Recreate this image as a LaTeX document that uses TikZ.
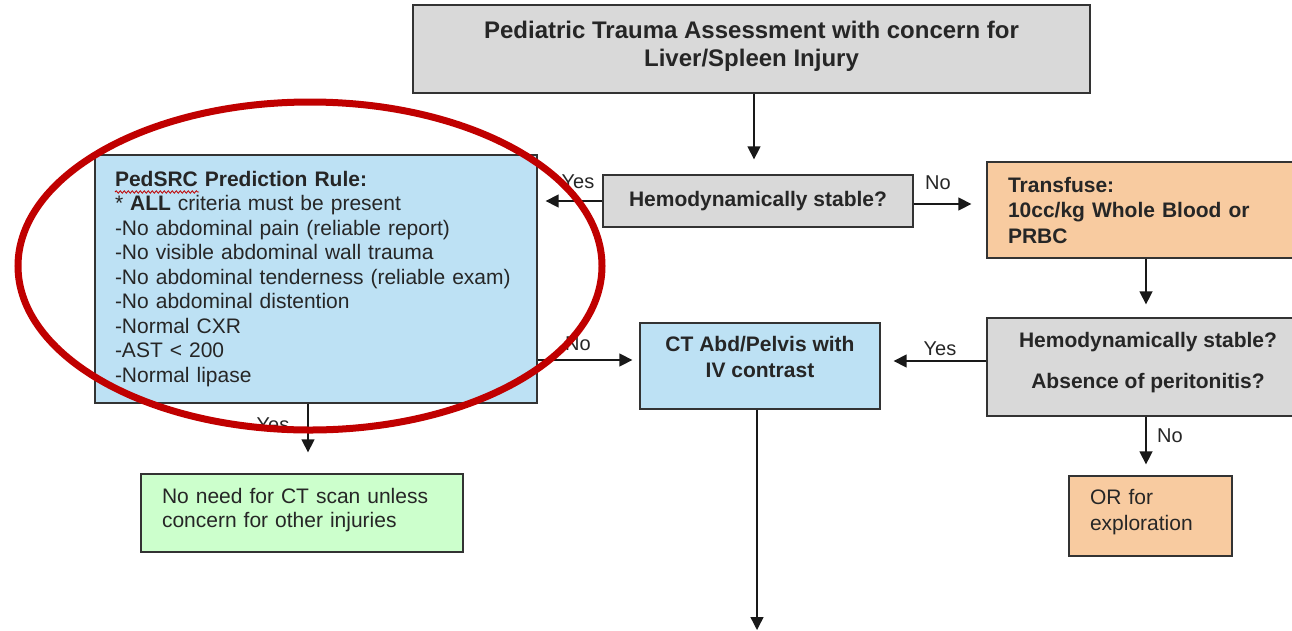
\documentclass[tikz,border=0pt]{standalone}
\usepackage{fontspec}
\setmainfont{Liberation Sans}
\usetikzlibrary{arrows.meta,decorations.pathmorphing}
\definecolor{bgray}{HTML}{D9D9D9}
\definecolor{bblue}{HTML}{BDE1F4}
\definecolor{borange}{HTML}{F8CBA0}
\definecolor{bgreen}{HTML}{CCFFCC}
\definecolor{ered}{HTML}{C00000}
\definecolor{edge}{HTML}{333333}
\tikzset{
  box/.style={draw=edge, line width=1.3pt, inner sep=0pt, text=black!85},
  txt/.style={font=\fontsize{21}{24.5}\selectfont},
  btxt/.style={font=\bfseries\fontsize{21}{25.5}\selectfont},
  leftbox/.style={align=left, inner xsep=21pt},
  arr/.style={-{Triangle[length=13pt,width=13pt]}, line width=1.4pt, draw=black!90},
  lbl/.style={font=\fontsize{20}{22}\selectfont, text=black!85, inner sep=0pt},
}
\begin{document}
\begin{tikzpicture}[x=1pt,y=-1pt]
\clip (0,0) rectangle (1292,630);
\fill[white] (0,0) rectangle (1292,630);

\node[box, fill=bgray, minimum width=677, minimum height=88, align=center,
  font=\bfseries\fontsize{24}{28}\selectfont] (top) at (751.5,49)
  {Pediatric Trauma Assessment with concern for\\Liver/Spleen Injury\\[-18pt]};

\node[box, btxt, fill=bgray, minimum width=310, minimum height=52] (hemo) at (758,201)
  {Hemodynamically stable?};

\node[box, btxt, leftbox, fill=borange, text width=280, minimum height=96] (trans) at (1148,210)
  {Transfuse:\\10cc/kg Whole Blood or\\PRBC};

\node[box, fill=bgray, minimum width=322, minimum height=98, align=center,
  font=\bfseries\fontsize{21}{41}\selectfont] (hemo2) at (1148,367)
  {Hemodynamically stable?\\Absence of peritonitis?\\[-28pt]};

\node[box, btxt, fill=bblue, minimum width=240, minimum height=86, align=center] (ct) at (760,366)
  {CT Abd/Pelvis with\\IV contrast\\[-7.5pt]};

\node[box, txt, leftbox, inner xsep=20pt, fill=bblue, text width=402, minimum height=248] (ped) at (316,279)
  {\textbf{PedSRC Prediction Rule:}\\
   {*} \textbf{ALL} criteria must be present\\
   -No abdominal pain (reliable report)\\
   -No visible abdominal wall trauma\\
   -No abdominal tenderness (reliable exam)\\
   -No abdominal distention\\
   -Normal CXR\\
   -AST < 200\\
   -Normal lipase};

\node[box, txt, leftbox, fill=bgreen, text width=280, minimum height=78] (green) at (302,513)
  {No need for CT scan unless\\concern for other injuries\par\vspace{6pt}};

\node[box, txt, leftbox, fill=borange, text width=121, minimum height=80, font=\fontsize{21}{26}\selectfont] (orx) at (1150.5,516)
  {OR for\\exploration\par\vspace{8pt}};

\coordinate (ctend) at (757,630);

% connectors
\draw[arr, shorten >=15pt] ([xshift=2.5pt]top.south) -- ([xshift=2.5pt]top.south |- hemo.north);
\draw[arr, shorten >=8pt] (hemo.west) -- (ped.east |- hemo.west);
\draw[arr, shorten >=15pt] ([yshift=-3pt]hemo.east) -- ([yshift=-3pt]hemo.east -| trans.west);
\draw[arr, shorten >=13pt] ([xshift=-2pt]trans.south) -- ([xshift=-2pt]trans.south |- hemo2.north);
\draw[arr, shorten >=13pt] ([yshift=6pt]hemo2.west) -- ([yshift=6pt]hemo2.west -| ct.east);
\draw[arr, shorten >=7pt] ([yshift=6pt]ped.east |- ct.west) -- ([yshift=6pt]ct.west);
\draw[arr, shorten >=21pt] ([xshift=-8pt]ped.south) -- ([xshift=-8pt]ped.south |- green.north);
\draw[arr] (ct.south -| ctend) -- (ctend);
\draw[arr, shorten >=11pt] ([xshift=-2pt]hemo2.south) -- ([xshift=-2pt]hemo2.south |- orx.north);

% labels
\node[lbl] (l1) at (578,182) {Yes};
\node[lbl] (l2) at (938,183) {No};
\node[lbl] (l3) at (940,349) {Yes};
\node[lbl] (l4) at (578,344) {No};
\node[lbl] (l5) at (273,425) {Yes};
\node[lbl] (l6) at (1170,436) {No};

% spell-check underline
\draw[ered, line width=0.8pt, decorate, decoration={snake, amplitude=1.2pt, segment length=4pt}]
  (115,192) -- (199,192);

% red ellipse
\draw[ered, line width=7pt] (310,266) ellipse [x radius=292, y radius=164];
\end{tikzpicture}
\end{document}
